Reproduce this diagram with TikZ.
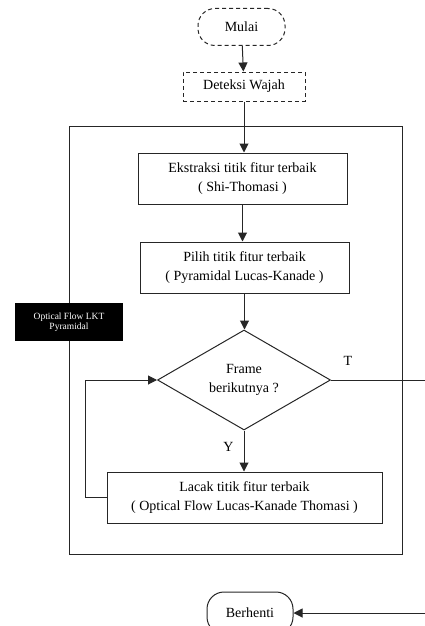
\documentclass[tikz,border=0pt]{standalone}
\usepackage{fontspec}
\setmainfont{Liberation Serif}
\usetikzlibrary{arrows.meta,shapes.geometric}
\begin{document}
\begin{tikzpicture}[x=1pt,y=-1pt,
  line width=1pt, draw=black!85,
  txt/.style={font=\fontsize{14}{18.5}\selectfont, align=center, inner sep=0pt},
  procbox/.style={txt, draw, rectangle, minimum width=#1},
  dbox/.style={txt, draw, dash pattern=on 4pt off 3pt, rectangle},
  term/.style={txt, draw, rounded corners=17pt},
  decision/.style={txt, draw, diamond, aspect=1.73, inner sep=0pt},
  arr/.style={-{Triangle[length=9pt,width=9pt]}}
]
\useasboundingbox (0,0) rectangle (424,626);

% start and face detection
\node[term, dash pattern=on 4pt off 3pt, minimum width=87pt, minimum height=37pt] (start) at (241.5,27) {Mulai};
\node[dbox, minimum width=122pt, minimum height=29pt] (detect) at (244,86.5) {Deteksi Wajah};

% Optical Flow LKT Pyramidal frame
\draw (69,126) rectangle (402,554);
\node[fill=black, text=white, inner sep=0pt, minimum width=108pt, minimum height=38pt,
      font=\fontsize{9.5}{10.5}\selectfont, align=center] (tag) at (69,322) {Optical Flow LKT\\Pyramidal};

% process steps
\node[procbox=209pt, minimum height=51pt] (extract) at (242.5,178.5) {Ekstraksi titik fitur terbaik\\( Shi-Thomasi )};
\node[procbox=209pt, minimum height=51pt] (select) at (244.5,267.5) {Pilih titik fitur terbaik\\( Pyramidal Lucas-Kanade )};
\node[decision, minimum width=173pt, minimum height=100pt] (next) at (244,380) {Frame\\berikutnya ?};
\node[procbox=275pt, minimum height=51pt] (track) at (244.5,497.5) {Lacak titik fitur terbaik\\( Optical Flow Lucas-Kanade Thomasi )};

\node[term, minimum width=86pt, minimum height=42pt] (stop) at (250,613) {Berhenti};

% connectors
\draw[arr] (start) -- (detect);
\draw[arr] (detect.south) -- (detect.south |- extract.north);
\draw[arr] (extract.south) -- (extract.south |- select.north);
\draw[arr] (select.south) -- (select.south |- next.north);
\draw[arr] (next) -- node[pos=0.4, left=10pt, txt] {Y} (next.south |- track.north);

\coordinate (loopL) at (85,0);
\draw[arr] (track.west) -- (track.west -| loopL) |- (next.west);

\coordinate (exitR) at (432,0);
\draw (next.east) -- (next.east -| exitR);
\node[txt] (tlabel) at (348,361) {T};
\draw[arr] (next.east -| exitR) |- (stop.east);
\end{tikzpicture}
\end{document}
